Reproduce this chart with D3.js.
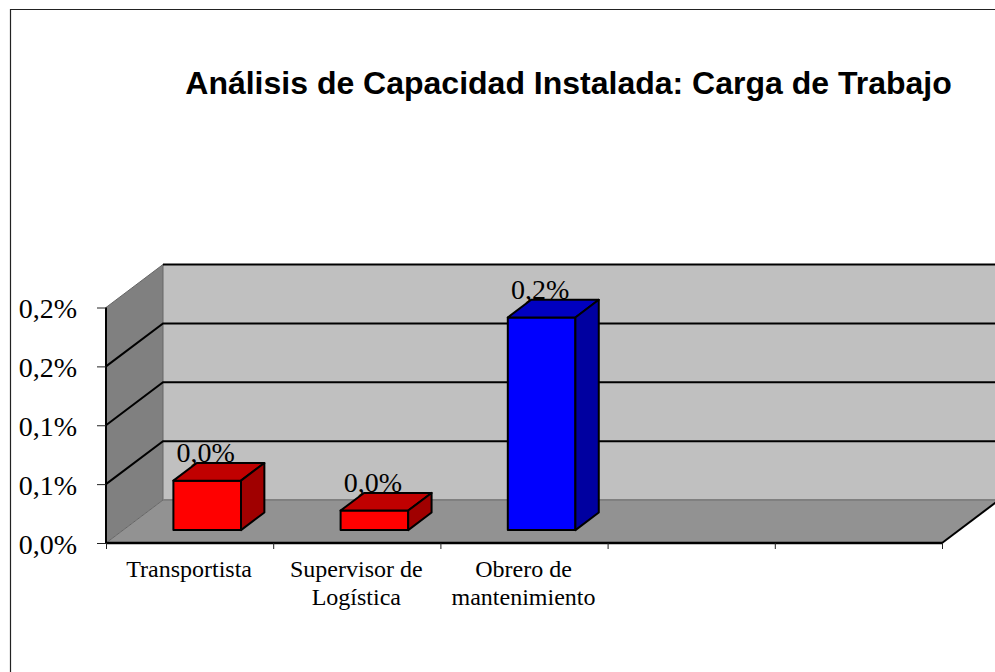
<!DOCTYPE html>
<html><head><meta charset="utf-8">
<style>html,body{margin:0;padding:0;background:#fff;overflow:hidden}svg{display:block}</style>
<script src="https://cdn.jsdelivr.net/npm/d3@7/dist/d3.min.js"></script>
</head><body><div id="chart"></div>
<script>
const titleText = "Análisis de Capacidad Instalada: Carga de Trabajo";
const categories = [["Transportista"], ["Supervisor de","Logística"], ["Obrero de","mantenimiento"], [" "], ["  "]];
const values = [0.042, 0.0166, 0.1806];
const barLabels = ["0,0%", "0,0%", "0,2%"];
const barFront = ["#ff0000", "#ff0000", "#0000ff"];
const barTop = ["#c00000", "#c00000", "#0000c0"];
const barSide = ["#a00000", "#a00000", "#0000a0"];
const yTicks = [0, 0.05, 0.1, 0.15, 0.2];
const yTickLabels = ["0,0%", "0,1%", "0,1%", "0,2%", "0,2%"];

const W = 995, H = 672;
const svg = d3.select("#chart").append("svg").attr("width", W).attr("height", H);
const serif = "'Liberation Serif','Times New Roman',serif";

const y = d3.scaleLinear().domain([0, 0.2]).range([543, 307.5]);
const x = d3.scaleBand().domain(d3.range(categories.length)).range([106, 942]);
const depthX = d3.scaleLinear().domain([0, 1]).range([0, 57]);
const depthY = d3.scaleLinear().domain([0, 1]).range([0, -43]);
const pt = (px, py, d) => [px + depthX(d), py + depthY(d)];
const poly = pts => d3.line()(pts) + "Z";

// frame: only the top and left edges fall inside the picture
svg.append("path").attr("d", `M995,9.5H10.5V672`).attr("fill", "none").attr("stroke", "#222").attr("stroke-width", 1.2);

// title
svg.append("text").attr("x", 568.5).attr("y", 94).attr("text-anchor", "middle")
  .attr("font-family", "'Liberation Sans',Arial,sans-serif").attr("font-weight", "bold").attr("font-size", 32)
  .text(titleText);

const x0 = x.range()[0], x1 = x.range()[1], y0 = y(0), yT = y(0.2);

// walls
svg.append("path").attr("d", poly([pt(x0, yT, 1), pt(x1, yT, 1), pt(x1, y0, 1), pt(x0, y0, 1)])).attr("fill", "#c0c0c0");
svg.append("path").attr("d", poly([pt(x0, yT, 0), pt(x0, yT, 1), pt(x0, y0, 1), pt(x0, y0, 0)])).attr("fill", "#808080");
svg.append("path").attr("d", poly([pt(x0, y0, 0), pt(x0, y0, 1), pt(x1, y0, 1), pt(x1, y0, 0)])).attr("fill", "#929292");

// wall edges in gray
svg.append("path").attr("d", d3.line()([pt(x0, yT, 0), pt(x0, yT, 1), pt(x0, y0, 1), pt(x0, y0, 0)]))
  .attr("fill", "none").attr("stroke", "#666").attr("stroke-width", 1);
svg.append("path").attr("d", d3.line()([pt(x0, y0, 1), pt(x1, y0, 1)]))
  .attr("fill", "none").attr("stroke", "#808080").attr("stroke-width", 2);

// gridlines across the side wall and back wall
svg.append("g").selectAll("path").data(yTicks.slice(1)).join("path")
  .attr("d", t => d3.line()(t === 0.2 ? [pt(x0, y(t), 1), pt(x1, y(t), 1)] : [pt(x0, y(t), 0), pt(x0, y(t), 1), pt(x1, y(t), 1)]))
  .attr("fill", "none").attr("stroke", "#000").attr("stroke-width", 2);

// right floor edge
svg.append("path").attr("d", d3.line()([pt(x1, y0, 0), pt(x1, y0, 1)])).attr("stroke", "#000").attr("stroke-width", 2).attr("fill", "none");

// axes
const yAxis = svg.append("g").attr("transform", `translate(${x0},0)`)
  .call(d3.axisLeft(y).tickValues(yTicks).tickSize(9).tickFormat((d, i) => yTickLabels[i]));
yAxis.select(".domain").attr("stroke", "#000").attr("stroke-width", 2).attr("d", `M0,${yT}V${y0}`);
yAxis.selectAll(".tick line").attr("stroke", "#222").attr("stroke-width", 1);
yAxis.selectAll(".tick text").attr("font-family", serif).attr("font-size", 28).attr("fill", "#000")
  .attr("x", -29).attr("dy", "0.37em");

const xTickPos = d3.range(categories.length + 1).map(i => x0 + i * x.step());
const xAxisScale = d3.scaleLinear().domain([x0, x1]).range([x0, x1]);
const xAxis = svg.append("g").attr("transform", `translate(0,${y0})`)
  .call(d3.axisBottom(xAxisScale).tickValues(xTickPos).tickSize(6).tickFormat(""));
xAxis.select(".domain").attr("stroke", "#000").attr("stroke-width", 2.4).attr("d", `M${x0},0H${x1}`);
xAxis.selectAll(".tick line").attr("stroke", "#222").attr("stroke-width", 1);

// category labels
const catG = svg.append("g");
categories.forEach((lines, i) => {
  const t = catG.append("text").attr("text-anchor", "middle").attr("font-family", serif)
    .attr("font-size", 24).attr("fill", "#000");
  lines.forEach((s, k) => t.append("tspan").attr("x", x(i) + x.bandwidth() / 2 - 0.5).attr("y", 577 + k * 28).text(s));
});

// bars sit partway into the floor
const dStart = 0.3, dEnd = 0.71;
const barW = 67.6;
const bars = values.map((v, i) => {
  const l = x(i) + x.bandwidth() / 2 + depthX(dStart) - barW / 2 + 0.5;
  return { l, r: l + barW, v, i };
});
const by = v => y(v) + depthY(dStart);
const base = y(0) + depthY(dStart);
const dd = dEnd - dStart;

// value labels go behind the bars
svg.append("g").selectAll("text").data(bars).join("text")
  .attr("x", b => (b.l + b.r) / 2 - 1.5).attr("y", b => by(b.v) - 18.5).attr("text-anchor", "middle")
  .attr("font-family", serif).attr("font-size", 28).attr("fill", "#000").text((b, i) => barLabels[i]);

const gb = svg.append("g").attr("stroke", "#000").attr("stroke-width", 2).attr("stroke-linejoin", "round");
gb.selectAll("path.front").data(bars).join("path").attr("class", "front")
  .attr("fill", b => barFront[b.i])
  .attr("d", b => poly([[b.l, by(b.v)], [b.r, by(b.v)], [b.r, base], [b.l, base]]));
gb.selectAll("path.top").data(bars).join("path").attr("class", "top")
  .attr("fill", b => barTop[b.i])
  .attr("d", b => poly([[b.l, by(b.v)], [b.r, by(b.v)], pt(b.r, by(b.v), dd), pt(b.l, by(b.v), dd)]));
gb.selectAll("path.side").data(bars).join("path").attr("class", "side")
  .attr("fill", b => barSide[b.i])
  .attr("d", b => poly([[b.r, by(b.v)], pt(b.r, by(b.v), dd), pt(b.r, base, dd), [b.r, base]]));
</script></body></html>
